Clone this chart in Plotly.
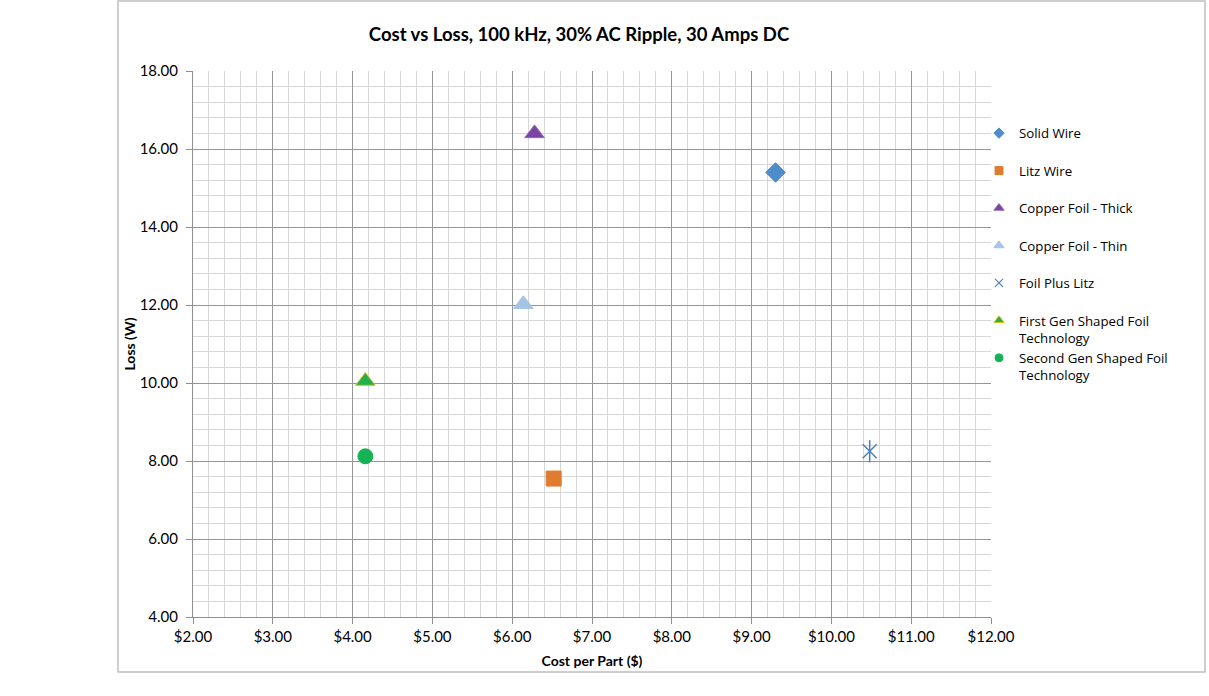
import plotly.graph_objects as go

series_names = [
    "Solid Wire",
    "Litz Wire",
    "Copper Foil - Thick",
    "Copper Foil - Thin",
    "Foil Plus Litz",
    "First Gen Shaped Foil<br>Technology",
    "Second Gen Shaped Foil<br>Technology",
]
cost = [9.30, 6.52, 6.28, 6.14, 10.48, 4.16, 4.16]
loss = [15.40, 7.55, 16.40, 12.02, 8.25, 10.05, 8.12]

colors = ["#4E8CCB", "#E07C2F", "#7B43A6", "#A5C5E6", "#4A7EC0", "#22B14C", "#15B356"]
symbols = ["diamond", "square", "triangle-up", "triangle-up", "x-thin-open", "triangle-up", "circle"]
sizes = [15, 15, 17, 17, 14, 17, 15]
legend_sizes = [8, 8, 9, 9, 8, 9, 8]
line_colors = ["#4E8CCB", "#E07C2F", "#8E6AB6", "#A5C5E6", "#4A7EC0", "#D8C21A", "#15B356"]

FONT = "Lato, 'Open Sans', sans-serif"
LEG_FONT = "'Open Sans', Lato, sans-serif"

fig = go.Figure()
for i, name in enumerate(series_names):
    label = name if "<br>" in name else name + "<br> "
    is_open = symbols[i].endswith("open")
    plain = name.replace("<br>", " ")
    # data marker
    fig.add_trace(go.Scatter(
        x=[cost[i]], y=[loss[i]], mode="markers", name=plain,
        legendgroup=f"g{i}", showlegend=False,
        marker=dict(symbol=symbols[i], size=sizes[i], color=colors[i],
                    line=dict(color=line_colors[i], width=1.5 if is_open else 1)),
    ))
    if symbols[i] == "x-thin-open":
        fig.add_trace(go.Scatter(
            x=[cost[i]], y=[loss[i]], mode="markers", showlegend=False,
            legendgroup=f"g{i}", name=plain,
            marker=dict(symbol="line-ns-open", size=sizes[i] + 2, color=colors[i],
                        line=dict(color=line_colors[i], width=1.5)),
        ))
    # legend entry (smaller symbol, like the original)
    fig.add_trace(go.Scatter(
        x=[None], y=[None], mode="markers", name=label,
        legendgroup=f"g{i}", showlegend=True, hoverinfo="skip",
        marker=dict(symbol=symbols[i], size=legend_sizes[i], color=colors[i],
                    line=dict(color=line_colors[i], width=1.2 if is_open else 1)),
    ))

W, H = 1209, 696
L, R, T, B = 193, 991, 71, 617
pw, ph = R - L, B - T

def px_x(px):
    return (px - L) / pw

def px_y(py):
    return (B - py) / ph

fig.add_shape(type="rect", xref="paper", yref="paper",
              x0=px_x(118), x1=px_x(1205), y0=px_y(672), y1=px_y(1),
              line=dict(color="#BFBFBF", width=1.5), fillcolor="rgba(0,0,0,0)", layer="below")

fig.update_layout(
    width=W, height=H,
    margin=dict(l=L, r=W - R, t=T, b=H - B),
    paper_bgcolor="white", plot_bgcolor="white",
    font=dict(family=FONT, size=13, color="#000000"),
    title=dict(text="<b>Cost vs Loss, 100 kHz, 30% AC Ripple, 30 Amps DC</b>",
               x=px_x(579), xref="paper", xanchor="center",
               y=1 - 35 / H, yref="container", yanchor="middle",
               font=dict(size=18.5, family=FONT, color="#000000")),
    showlegend=True,
    legend=dict(x=px_x(979), xanchor="left", y=px_y(118), yanchor="top",
                font=dict(size=13.25, family=LEG_FONT, color="#000000"),
                valign="top", tracegroupgap=0, itemsizing="trace",
                bgcolor="rgba(0,0,0,0)"),
)

fig.update_xaxes(
    range=[2, 12], dtick=1, tick0=2, tickprefix="$", tickformat=".2f",
    showgrid=True, gridcolor="#969696", gridwidth=1,
    minor=dict(dtick=0.2, showgrid=True, gridcolor="#D6D6D6", gridwidth=1.3, ticks=""),
    showline=True, linecolor="#8F8F8F", linewidth=1,
    ticks="outside", ticklen=6, tickcolor="#8F8F8F",
    tickfont=dict(size=15, family=FONT),
    zeroline=False, mirror=False,
    title=dict(text="<b>Cost per Part ($)</b>", font=dict(size=14, family=FONT), standoff=12),
)
fig.update_yaxes(
    range=[4, 18], dtick=2, tick0=4, tickformat=".2f",
    showgrid=True, gridcolor="#969696", gridwidth=1,
    minor=dict(dtick=0.4, showgrid=True, gridcolor="#D6D6D6", gridwidth=1.3, ticks=""),
    showline=True, linecolor="#8F8F8F", linewidth=1,
    ticks="outside", ticklen=6, tickcolor="#8F8F8F",
    tickfont=dict(size=15, family=FONT), ticklabelstandoff=5,
    zeroline=False,
    title=dict(text="<b>Loss (W)</b>", font=dict(size=14, family=FONT), standoff=0),
)

fig.write_html("out.html")
